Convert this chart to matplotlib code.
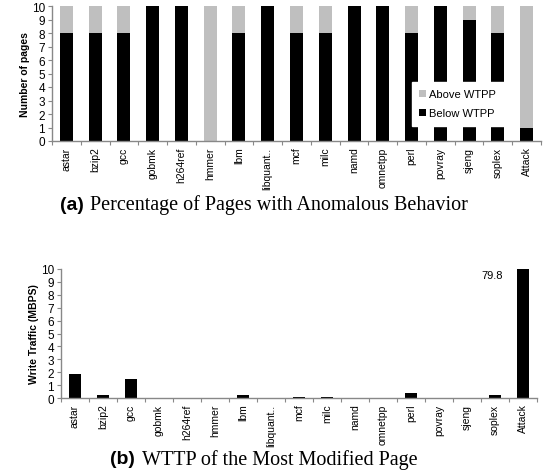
import matplotlib.pyplot as plt
import numpy as np

benchmarks = ['astar', 'bzip2', 'gcc', 'gobmk', 'h264ref', 'hmmer', 'lbm',
              'libquant..', 'mcf', 'milc', 'namd', 'omnetpp', 'perl',
              'povray', 'sjeng', 'soplex', 'Attack']
below_wtpp = [8, 8, 8, 10, 10, 0, 8, 10, 8, 8, 10, 10, 8, 10, 9, 8, 1]
above_wtpp = [2, 2, 2, 0, 0, 10, 2, 0, 2, 2, 0, 0, 2, 0, 1, 2, 9]
write_traffic = [1.85, 0.2, 1.45, 0, 0, 0, 0.2, 0, 0.08, 0.08, 0, 0,
                 0.4, 0, 0, 0.25, 79.8]

plt.rcParams['font.family'] = ['Liberation Sans', 'DejaVu Sans']

W, H = 549, 477
fig = plt.figure(figsize=(W / 100, H / 100), dpi=100)


def style_axes(ax):
    x = np.arange(len(benchmarks))
    ax.set_xlim(-0.5, len(benchmarks) - 0.5)
    ax.set_ylim(0, 10)
    ax.set_yticks(range(0, 11))
    ax.tick_params(axis='y', labelsize=8.5, length=3, width=0.8,
                   color='#888888', pad=2)
    # category labels without ticks, ticks at the boundaries
    ax.set_xticks(x)
    ax.set_xticklabels(benchmarks, rotation=90, fontsize=7.5)
    ax.tick_params(axis='x', which='major', length=0, pad=4)
    ax.set_xticks(np.arange(-0.5, len(benchmarks)), minor=True)
    ax.tick_params(axis='x', which='minor', length=3, width=0.8,
                   color='#888888')
    for s in ['top', 'right']:
        ax.spines[s].set_visible(False)
    for s in ['left', 'bottom']:
        ax.spines[s].set_color('#888888')
        ax.spines[s].set_linewidth(1.0)


# (a) верхний график - страницы
ax1 = fig.add_axes([52 / W, 1 - 142 / H, 489 / W, 135 / H])
x = np.arange(len(benchmarks))
ax1.bar(x, below_wtpp, width=0.45, color='black', label='Below WTPP')
ax1.bar(x, above_wtpp, width=0.45, bottom=below_wtpp, color='#bfbfbf',
        label='Above WTPP')
style_axes(ax1)
ax1.set_ylabel('Number of pages', fontsize=7.5, fontweight='bold', labelpad=1)
h, l = ax1.get_legend_handles_labels()
leg = ax1.legend(h[::-1], l[::-1], loc='lower left',
                 bbox_to_anchor=(0.724, 0.07), fontsize=8, frameon=True,
                 handlelength=0.6, handleheight=0.6, handletextpad=0.3,
                 labelspacing=0.8, borderpad=0.7, fancybox=False)
leg.get_frame().set_edgecolor('white')
leg.get_frame().set_facecolor('white')
leg.get_frame().set_alpha(1)

# (b) нижний график - трафик
ax2 = fig.add_axes([61 / W, 1 - 399 / H, 476 / W, 129 / H])
ax2.bar(x, write_traffic, width=0.43, color='black')
style_axes(ax2)
ax2.set_ylabel('Write Traffic (MBPS)', fontsize=7.5, fontweight='bold',
               labelpad=1)
ax2.text(len(benchmarks) - 2.1, 9.5, f'{write_traffic[-1]:.1f}',
         ha='center', va='center', fontsize=8)

# подписи под графиками
fig.text(60 / W, 1 - 205 / H, '(a)', fontsize=14, fontweight='bold',
         ha='left', va='center')
fig.text(90 / W, 1 - 205 / H, 'Percentage of Pages with Anomalous Behavior',
         fontsize=14.5, family='Liberation Serif', ha='left', va='center')
fig.text(110 / W, 1 - 460 / H, '(b)', fontsize=14, fontweight='bold',
         ha='left', va='center')
fig.text(142 / W, 1 - 460 / H, 'WTTP of the Most Modified Page',
         fontsize=14.5, family='Liberation Serif', ha='left', va='center')

fig.savefig('out.png', dpi=100)
plt.close()
